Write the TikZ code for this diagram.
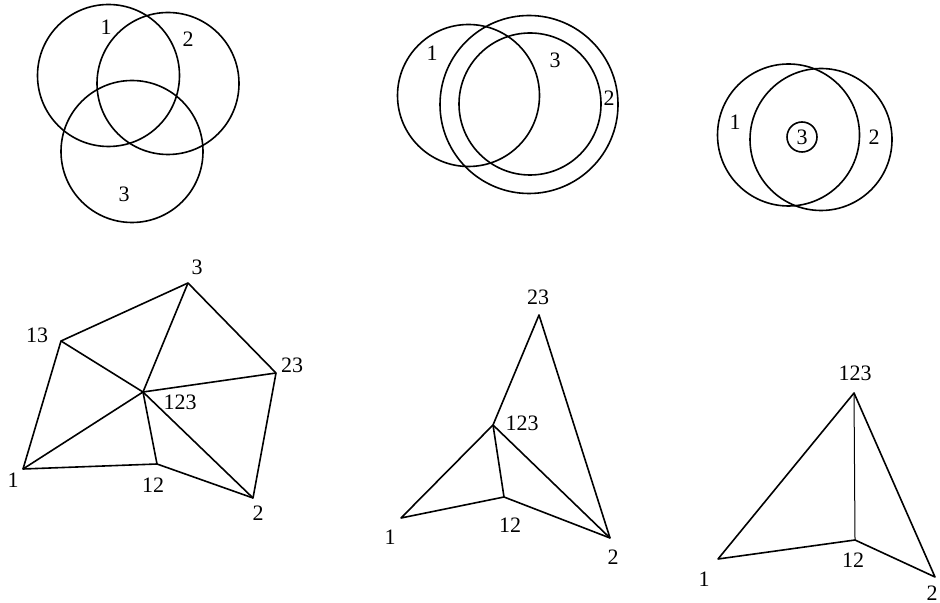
\documentclass[tikz,border=0pt]{standalone}
\usepackage{fontspec}
\setmainfont{Liberation Serif}

\tikzset{
  venn/.style={line width=0.8pt},
  edge/.style={line width=0.8pt, line join=round},
  lbl/.style={inner sep=0pt, font=\fontsize{11}{13}\selectfont}
}

\begin{document}
\begin{tikzpicture}[x=0.5pt, y=-0.5pt]
    \useasboundingbox (0,0) rectangle (940,603);

    % Three circles, pairwise overlapping
    \draw[venn] (108.5,75.5) circle[radius=71];
    \draw[venn] (168,83.5) circle[radius=71];
    \draw[venn] (132,151.5) circle[radius=71];
    \node[lbl] (va1) at (106,27) {1};
    \node[lbl] (va2) at (188,39) {2};
    \node[lbl] (va3) at (124,194) {3};

    % Circle 3 inside circle 2
    \draw[venn] (468.5,95.5) circle[radius=71];
    \draw[venn] (529,104.5) circle[radius=89];
    \draw[venn] (530,104) circle[radius=71];
    \node[lbl] (vb1) at (432,53) {1};
    \node[lbl] (vb3) at (555,60) {3};
    \node[lbl] (vb2) at (609,98) {2};

    % Circle 3 inside the common part
    \draw[venn] (788.5,135) circle[radius=71];
    \draw[venn] (821,139.5) circle[radius=71];
    \draw[venn] (802,137) circle[radius=15];
    \node[lbl] (vc1) at (735,122) {1};
    \node[lbl] (vc3) at (802,137) {3};
    \node[lbl] (vc2) at (874,137) {2};

    % Graph for the first case
    \coordinate (a1) at (23,469);
    \coordinate (a12) at (157,464);
    \coordinate (a2) at (253,498);
    \coordinate (a23) at (276,373);
    \coordinate (a3) at (188,283);
    \coordinate (a13) at (61,341);
    \coordinate (a123) at (143,392);
    \draw[edge] (a1) -- (a13) -- (a3) -- (a23) -- (a2) -- (a12) -- cycle;
    \foreach \v in {a1,a13,a3,a23,a2,a12}
        \draw[edge] (a123) -- (\v);
    \node[lbl] (la1) at (13,480) {1};
    \node[lbl] (la12) at (153,485) {12};
    \node[lbl] (la2) at (258,513) {2};
    \node[lbl] (la23) at (292,365) {23};
    \node[lbl] (la3) at (197,267) {3};
    \node[lbl] (la13) at (37,335) {13};
    \node[lbl] (la123) at (180,402) {123};

    % Graph for the second case
    \coordinate (b23) at (539,315);
    \coordinate (b123) at (493,425);
    \coordinate (b12) at (504,497);
    \coordinate (b1) at (401,518);
    \coordinate (b2) at (610,538);
    \draw[edge] (b1) -- (b123) -- (b23) -- (b2) -- (b12) -- cycle;
    \draw[edge] (b123) -- (b12);
    \draw[edge] (b123) -- (b2);
    \node[lbl] (lb23) at (538,297) {23};
    \node[lbl] (lb123) at (522,423) {123};
    \node[lbl] (lb12) at (510,525) {12};
    \node[lbl] (lb1) at (390,537) {1};
    \node[lbl] (lb2) at (613,557) {2};

    % Graph for the third case
    \coordinate (c123) at (854,393);
    \coordinate (c12) at (855,540);
    \coordinate (c1) at (718,559);
    \coordinate (c2) at (935,577);
    \draw[edge] (c1) -- (c123) -- (c2) -- (c12) -- cycle;
    \draw[line width=0.5pt] (c123) -- (c12);
    \node[lbl] (lc123) at (855,373) {123};
    \node[lbl] (lc12) at (853,560) {12};
    \node[lbl] (lc1) at (704,579) {1};
    \node[lbl] (lc2) at (932,593) {2};
\end{tikzpicture}
\end{document}
